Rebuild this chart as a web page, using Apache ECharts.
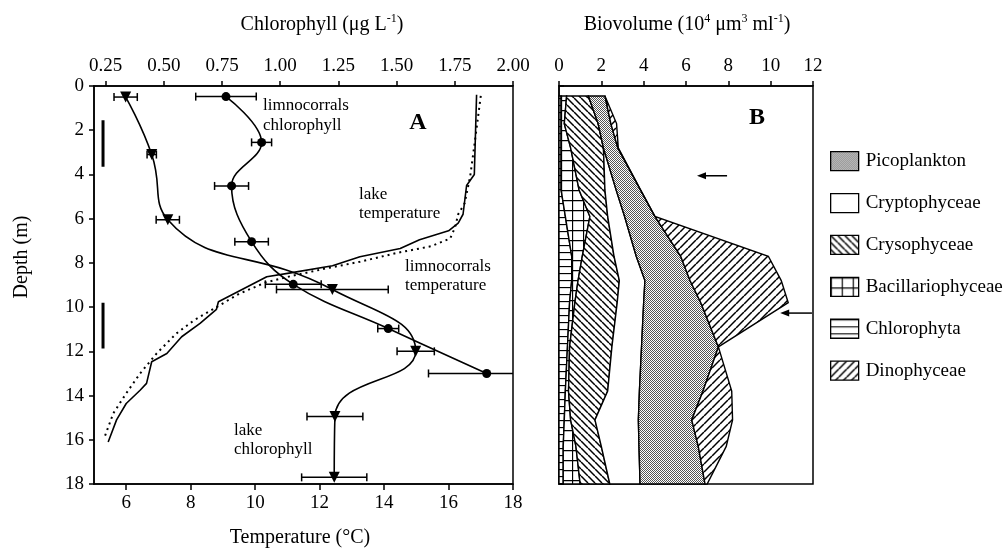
<!DOCTYPE html>
<html>
<head>
<meta charset="utf-8">
<script src="https://cdn.jsdelivr.net/npm/echarts@6/dist/echarts.min.js"></script>
<style>
  html, body { margin: 0; padding: 0; background: #fff; }
  #chart { width: 1005px; height: 550px; }
</style>
</head>
<body>
<div id="chart"></div>
<script>
// ---- Panel A: chlorophyll (ug/L) vs depth (m)
const lakeChlDepth = [0.5, 3.1, 6.05, 9.2, 12.0, 14.95, 17.7];
const lakeChl = [0.336, 0.448, 0.517, 1.224, 1.582, 1.235, 1.232];
const lakeChlErr = [0.05, 0.02, 0.05, 0.24, 0.08, 0.12, 0.14];

const limnoChlDepth = [0.48, 2.55, 4.52, 7.04, 8.97, 10.97, 13.0];
const limnoChl = [0.767, 0.92, 0.791, 0.877, 1.056, 1.464, 1.887];
const limnoChlErr = [0.13, 0.043, 0.073, 0.072, 0.12, 0.045, 0.25];

// ---- Panel A: temperature (C) vs depth (m)
const lakeTempDepth = [0.4, 4.0, 4.5, 5.8, 6.2, 6.55, 6.95, 7.35, 7.72, 8.13, 8.45, 8.63, 8.9, 9.76, 10.1, 10.74, 11.34, 12.1, 12.47, 13.45, 13.76, 14.36, 15.1, 16.1];
const lakeTemp = [16.87, 16.8, 16.56, 16.45, 16.3, 16.0, 15.1, 14.5, 13.25, 12.4, 11.1, 10.36, 10.0, 8.86, 8.8, 8.29, 7.72, 7.26, 6.79, 6.63, 6.43, 6.0, 5.7, 5.44];

const limnoTempDepth = [0.45, 2.7, 4.1, 5.3, 5.8, 6.4, 6.9, 7.25, 7.55, 7.95, 8.25, 8.6, 8.9, 9.4, 10.0, 10.6, 11.2, 12.1, 13.0, 13.9, 14.8, 15.95];
const limnoTemp = [17.0, 16.8, 16.67, 16.5, 16.3, 16.2, 16.05, 15.45, 14.4, 13.25, 12.2, 11.1, 10.3, 9.5, 8.8, 8.1, 7.55, 6.94, 6.43, 6.0, 5.6, 5.31];

// depth ranges marked by the thick bars at the left of panel A
const barTemp = 5.28;
const barRanges = [[1.55, 3.65], [9.8, 11.87]];

// tick labels
const tempTicks = [6, 8, 10, 12, 14, 16, 18];
const chlTicks = [0.25, 0.5, 0.75, 1.0, 1.25, 1.5, 1.75, 2.0];

// ---- Panel B: biovolume (10^4 um3/ml) per group, stacked from the left
const bioDepth = [0.45, 1.7, 2.8, 4.7, 5.9, 7.7, 8.8, 9.8, 11.8, 13.8, 15.1, 16.3, 18];
const chlorophyta       = [0.1, 0.1, 0.1, 0.1, 0.3, 0.6, 0.6, 0.5, 0.4, 0.3, 0.25, 0.2, 0.2];
const bacillariophyceae = [0.26, 0.15, 0.45, 0.85, 1.16, 0.5, 0.3, 0.25, 0.1, 0.15, 0.3, 0.6, 0.8];
const crysophyceae      = [1.03, 1.6, 1.55, 1.22, 0.84, 1.5, 1.95, 2.0, 2.0, 1.85, 1.15, 1.2, 1.4];
const cryptophyceae     = [0, 0, 0, 0.53, 0.8, 1.05, 1.21, 1.25, 1.4, 1.5, 2.05, 1.78, 1.43];
const picoplankton      = [0.78, 0.6, 0.68, 1.15, 1.43, 2.1, 2.13, 2.7, 3.63, 3.0, 2.52, 2.8, 3.07];
const dinophyceae       = [0, 0.27, 0.02, 0, 0, 4.14, 4.31, 4.13, 0, 1.36, 1.93, 1.32, 0.1];

const layerNames = ['Chlorophyta', 'Bacillariophyceae', 'Crysophyceae', 'Cryptophyceae', 'Picoplankton', 'Dinophyceae'];
const layerValues = [chlorophyta, bacillariophyceae, crysophyceae, cryptophyceae, picoplankton, dinophyceae];
const legendOrder = ['Picoplankton', 'Cryptophyceae', 'Crysophyceae', 'Bacillariophyceae', 'Chlorophyta', 'Dinophyceae'];

// arrows in panel B: [tip, tail, depth]
const arrows = [[6.52, 7.94, 4.06], [10.45, 11.95, 10.27]];

const serif = '"Liberation Serif", "DejaVu Serif", serif';

// fill patterns
function makePattern(w, h, draw) {
  const c = document.createElement('canvas');
  c.width = w; c.height = h;
  const ctx = c.getContext('2d');
  ctx.fillStyle = '#fff';
  ctx.fillRect(0, 0, w, h);
  ctx.strokeStyle = '#000';
  ctx.fillStyle = '#000';
  draw(ctx, w, h);
  return { image: c, repeat: 'repeat' };
}
const patterns = {
  Picoplankton: makePattern(4, 4, function (ctx) {
    ctx.fillStyle = '#555';
    for (let x = 0; x < 4; x++) for (let y = 0; y < 4; y++) if ((x + y) % 2 === 0) ctx.fillRect(x, y, 1, 1);
  }),
  Cryptophyceae: '#fff',
  Crysophyceae: makePattern(7, 7, function (ctx, w) {
    ctx.lineWidth = 1.5;
    [-w, 0, w].forEach(function (o) { ctx.beginPath(); ctx.moveTo(o, 0); ctx.lineTo(o + w, w); ctx.stroke(); });
  }),
  Bacillariophyceae: makePattern(11, 10, function (ctx, w, h) {
    ctx.lineWidth = 1.3;
    ctx.beginPath(); ctx.moveTo(0.5, 0); ctx.lineTo(0.5, h); ctx.moveTo(0, 0.5); ctx.lineTo(w, 0.5); ctx.stroke();
  }),
  Chlorophyta: makePattern(7, 7, function (ctx, w) {
    ctx.lineWidth = 1.3;
    ctx.beginPath(); ctx.moveTo(0, 0.5); ctx.lineTo(w, 0.5); ctx.stroke();
  }),
  Dinophyceae: makePattern(8, 8, function (ctx, w) {
    ctx.lineWidth = 1.5;
    [-w, 0, w].forEach(function (o) { ctx.beginPath(); ctx.moveTo(o, w); ctx.lineTo(o + w, 0); ctx.stroke(); });
  })
};

// cumulative boundaries
const cum = [bioDepth.map(function () { return 0; })];
layerValues.forEach(function (vals, k) {
  cum.push(vals.map(function (v, i) { return cum[k][i] + v; }));
});

function zip(xs, ys) { return xs.map(function (x, i) { return [x, ys[i]]; }); }

function errorBarRender(params, api) {
  const c = api.value(0), d = api.value(1), e = api.value(2);
  const l = api.coord([c - e, d]);
  const r = api.coord([c + e, d]);
  const h = 4;
  const st = { stroke: '#000', lineWidth: 1.5 };
  return {
    type: 'group',
    children: [
      { type: 'line', shape: { x1: l[0], y1: l[1], x2: r[0], y2: r[1] }, style: st },
      { type: 'line', shape: { x1: l[0], y1: l[1] - h, x2: l[0], y2: l[1] + h }, style: st },
      { type: 'line', shape: { x1: r[0], y1: r[1] - h, x2: r[0], y2: r[1] + h }, style: st }
    ]
  };
}

function layerRender(k) {
  return function (params, api) {
    const left = [], right = [];
    for (let i = 0; i < bioDepth.length; i++) {
      left.push(api.coord([cum[k][i], bioDepth[i]]));
      right.push(api.coord([cum[k + 1][i], bioDepth[i]]));
    }
    return {
      type: 'polygon',
      shape: { points: left.concat(right.reverse()) },
      style: { fill: patterns[layerNames[k]], stroke: '#000', lineWidth: 1.4 }
    };
  };
}

const axisLineStyle = { color: '#000', width: 1.5 };
const labelStyle = { color: '#000', fontSize: 19, fontFamily: serif };

const layerSeries = layerNames.map(function (name, k) {
  return {
    name: name,
    type: 'custom',
    xAxisIndex: 2,
    yAxisIndex: 1,
    renderItem: layerRender(k),
    itemStyle: { color: patterns[name], borderColor: '#000' },
    data: [[0, 0]],
    silent: true
  };
});

const chart = echarts.init(document.getElementById('chart'));
chart.setOption({
  animation: false,
  backgroundColor: '#fff',
  grid: [
    { left: 94, top: 86, width: 419, height: 398, show: true, borderColor: '#000', borderWidth: 1.5 },
    { left: 559, top: 86, width: 254, height: 398, show: true, borderColor: '#000', borderWidth: 1.5 }
  ],
  xAxis: [
    {
      gridIndex: 0, type: 'value', position: 'bottom', min: 5, max: 18,
      axisLine: { onZero: false, lineStyle: axisLineStyle },
      axisTick: { customValues: tempTicks, length: 6, lineStyle: axisLineStyle },
      axisLabel: Object.assign({ customValues: tempTicks, margin: 10 }, labelStyle),
      splitLine: { show: false }
    },
    {
      gridIndex: 0, type: 'value', position: 'top', min: 0.2, max: 2.0,
      axisLine: { onZero: false, lineStyle: axisLineStyle },
      axisTick: { customValues: chlTicks, length: 5, lineStyle: axisLineStyle },
      axisLabel: Object.assign({ customValues: chlTicks, margin: 10, formatter: function (v) { return v.toFixed(2); } }, labelStyle),
      splitLine: { show: false }
    },
    {
      gridIndex: 1, type: 'value', position: 'top', min: 0, max: 12, interval: 2,
      axisLine: { onZero: false, lineStyle: axisLineStyle },
      axisTick: { length: 5, lineStyle: axisLineStyle },
      axisLabel: Object.assign({ margin: 10 }, labelStyle),
      splitLine: { show: false }
    }
  ],
  yAxis: [
    {
      gridIndex: 0, type: 'value', inverse: true, min: 0, max: 18, interval: 2,
      axisLine: { onZero: false, lineStyle: axisLineStyle },
      axisTick: { length: 5, lineStyle: axisLineStyle },
      axisLabel: Object.assign({ margin: 10 }, labelStyle),
      splitLine: { show: false }
    },
    {
      gridIndex: 1, type: 'value', inverse: true, min: 0, max: 18, interval: 2,
      axisLine: { onZero: false, lineStyle: axisLineStyle },
      axisTick: { inside: true, length: 5, lineStyle: axisLineStyle },
      axisLabel: { show: false },
      splitLine: { show: false }
    }
  ],
  legend: {
    orient: 'vertical', left: 825, top: 146,
    itemWidth: 28, itemHeight: 19, itemGap: 21.6,
    selectedMode: false,
    icon: 'rect',
    textStyle: { color: '#000', fontSize: 19, fontFamily: serif, padding: [0, 0, 0, 2] },
    data: legendOrder.map(function (n) {
      return { name: n, itemStyle: { color: patterns[n], borderColor: '#000', borderWidth: 1.3 } };
    })
  },
  series: [
    {
      name: 'lake temperature', type: 'line', xAxisIndex: 0, yAxisIndex: 0,
      data: zip(lakeTemp, lakeTempDepth), symbol: 'none',
      lineStyle: { color: '#000', width: 1.6 }, silent: true
    },
    {
      name: 'limnocorrals temperature', type: 'line', xAxisIndex: 0, yAxisIndex: 0,
      data: zip(limnoTemp, limnoTempDepth), symbol: 'none',
      lineStyle: { color: '#000', width: 2, type: [2, 4] }, silent: true
    },
    {
      name: 'bars', type: 'line', xAxisIndex: 0, yAxisIndex: 0, symbol: 'none',
      data: [[barTemp, barRanges[0][0]], [barTemp, barRanges[0][1]], ['-', '-'], [barTemp, barRanges[1][0]], [barTemp, barRanges[1][1]]],
      lineStyle: { color: '#000', width: 3 }, silent: true
    },
    {
      name: 'lake chlorophyll', type: 'line', xAxisIndex: 1, yAxisIndex: 0,
      data: zip(lakeChl, lakeChlDepth), smooth: 0.5,
      symbol: 'triangle', symbolRotate: 180, symbolSize: 11,
      itemStyle: { color: '#000' }, lineStyle: { color: '#000', width: 1.6 }, silent: true
    },
    {
      name: 'limnocorrals chlorophyll', type: 'line', xAxisIndex: 1, yAxisIndex: 0,
      data: zip(limnoChl, limnoChlDepth), smooth: 0.4,
      symbol: 'circle', symbolSize: 9,
      itemStyle: { color: '#000' }, lineStyle: { color: '#000', width: 1.6 }, silent: true
    },
    {
      name: 'lake chl err', type: 'custom', xAxisIndex: 1, yAxisIndex: 0, clip: true,
      renderItem: errorBarRender,
      data: lakeChl.map(function (c, i) { return [c, lakeChlDepth[i], lakeChlErr[i]]; }), silent: true
    },
    {
      name: 'limno chl err', type: 'custom', xAxisIndex: 1, yAxisIndex: 0, clip: true,
      renderItem: errorBarRender,
      data: limnoChl.map(function (c, i) { return [c, limnoChlDepth[i], limnoChlErr[i]]; }), silent: true
    }
  ].concat(layerSeries).concat([
    {
      name: 'arrows', type: 'custom', xAxisIndex: 2, yAxisIndex: 1, silent: true,
      renderItem: function (params, api) {
        const tip = api.coord([api.value(0), api.value(2)]);
        const tail = api.coord([api.value(1), api.value(2)]);
        return {
          type: 'group',
          children: [
            { type: 'line', shape: { x1: tip[0] + 6, y1: tip[1], x2: tail[0], y2: tail[1] }, style: { stroke: '#000', lineWidth: 1.5 } },
            { type: 'polygon', shape: { points: [[tip[0], tip[1]], [tip[0] + 9, tip[1] - 3.5], [tip[0] + 9, tip[1] + 3.5]] }, style: { fill: '#000' } }
          ]
        };
      },
      data: arrows
    }
  ]),
  graphic: [
    {
      type: 'text', x: 322, y: 25,
      style: {
        text: '{n|Chlorophyll (\u03bcg L}{s|-1}{n|)}',
        align: 'center', verticalAlign: 'middle', fill: '#000',
        rich: {
          n: { fontSize: 20, fontFamily: serif, lineHeight: 24, fill: '#000' },
          s: { fontSize: 12, fontFamily: serif, lineHeight: 14, verticalAlign: 'top', fill: '#000' }
        }
      }
    },
    {
      type: 'text', x: 687, y: 25,
      style: {
        text: '{n|Biovolume (10}{s|4}{n| \u03bcm}{s|3}{n| ml}{s|-1}{n|)}',
        align: 'center', verticalAlign: 'middle', fill: '#000',
        rich: {
          n: { fontSize: 20, fontFamily: serif, lineHeight: 24, fill: '#000' },
          s: { fontSize: 12, fontFamily: serif, lineHeight: 14, verticalAlign: 'top', fill: '#000' }
        }
      }
    },
    {
      type: 'text', x: 22, y: 257, rotation: Math.PI / 2,
      style: { text: 'Depth (m)', font: '20px ' + serif, align: 'center', verticalAlign: 'middle', fill: '#000' }
    },
    {
      type: 'text', x: 300, y: 538,
      style: { text: 'Temperature (\u00b0C)', font: '20px ' + serif, align: 'center', verticalAlign: 'middle', fill: '#000' }
    },
    {
      type: 'text', x: 263, y: 96,
      style: { text: 'limnocorrals\nchlorophyll', font: '17px ' + serif, lineHeight: 20, fill: '#000' }
    },
    {
      type: 'text', x: 359, y: 185,
      style: { text: 'lake\ntemperature', font: '17px ' + serif, lineHeight: 19, fill: '#000' }
    },
    {
      type: 'text', x: 405, y: 257,
      style: { text: 'limnocorrals\ntemperature', font: '17px ' + serif, lineHeight: 19, fill: '#000' }
    },
    {
      type: 'text', x: 234, y: 421,
      style: { text: 'lake\nchlorophyll', font: '17px ' + serif, lineHeight: 19, fill: '#000' }
    },
    {
      type: 'text', x: 418, y: 123,
      style: { text: 'A', font: 'bold 24px ' + serif, align: 'center', verticalAlign: 'middle', fill: '#000' }
    },
    {
      type: 'text', x: 757, y: 118,
      style: { text: 'B', font: 'bold 24px ' + serif, align: 'center', verticalAlign: 'middle', fill: '#000' }
    }
  ]
});
</script>
</body>
</html>
